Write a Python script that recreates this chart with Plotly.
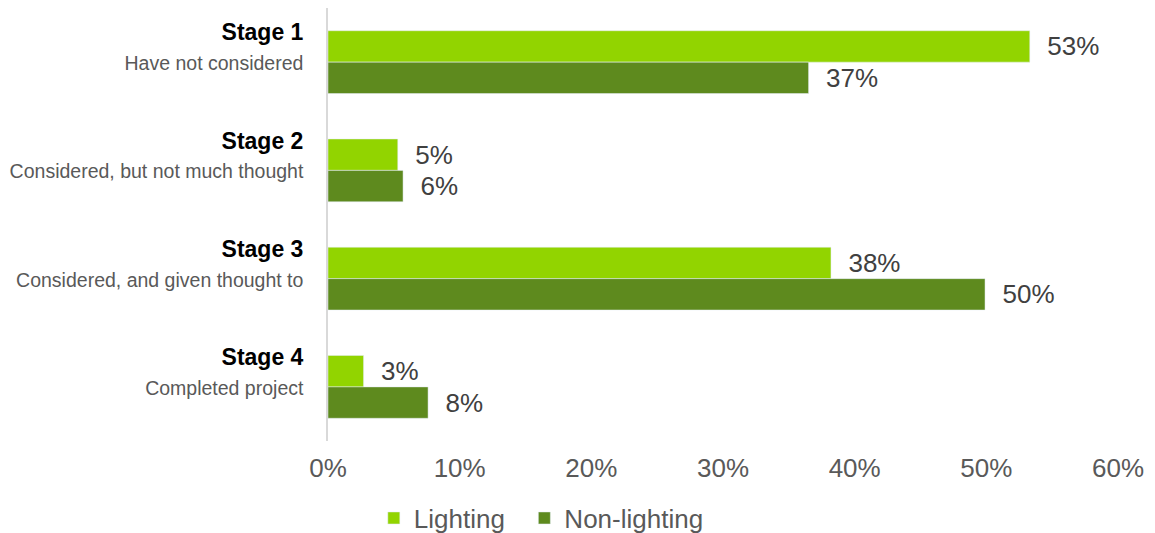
import plotly.graph_objects as go

stages = ["Stage 1", "Stage 2", "Stage 3", "Stage 4"]
descriptions = ["Have not considered", "Considered, but not much thought",
                "Considered, and given thought to", "Completed project"]
lighting = [53.3, 5.3, 38.2, 2.7]
nonlighting = [36.5, 5.7, 49.9, 7.6]
lighting_labels = ["53%", "5%", "38%", "3%"]
nonlighting_labels = ["37%", "6%", "50%", "8%"]
x_ticks = [0, 10, 20, 30, 40, 50, 60]
x_ticklabels = ["0%", "10%", "20%", "30%", "40%", "50%", "60%"]

ticktext = [
    f"<b>{s}</b><br><span style='font-size:19.5px;color:#595959'>{d}</span><br> "
    for s, d in zip(stages, descriptions)
]

nb = "\u00a0\u00a0"
label_font = dict(size=26, color="#404040", family="Liberation Sans, Arial")
fig = go.Figure()
fig.add_trace(go.Bar(
    y=stages, x=lighting, orientation="h", name="Lighting\u00a0\u00a0",
    marker=dict(color="#92D400"),
    text=[nb + t for t in lighting_labels], textposition="outside",
    textfont=label_font, cliponaxis=False,
))
fig.add_trace(go.Bar(
    y=stages, x=nonlighting, orientation="h", name="Non-lighting",
    marker=dict(color="#5E8A1E"),
    text=[nb + t for t in nonlighting_labels], textposition="outside",
    textfont=label_font, cliponaxis=False,
))

fig.update_layout(
    width=1155, height=533,
    margin=dict(l=328, r=37, t=8, b=92, autoexpand=False),
    paper_bgcolor="white", plot_bgcolor="white",
    barmode="group", bargap=0.42, bargroupgap=0,
    font=dict(family="Liberation Sans, Arial", color="#595959"),
    showlegend=True,
    legend=dict(orientation="h", x=0.058, xanchor="left", y=-0.178, yanchor="middle",
                font=dict(size=26, color="#595959"), traceorder="normal",
                itemwidth=30),
    xaxis=dict(range=[0, 60], tickvals=x_ticks, ticktext=x_ticklabels,
               showgrid=False, zeroline=False, showline=False,
               tickfont=dict(size=26, color="#595959"), ticks="",
               ticklabelstandoff=9),
    yaxis=dict(autorange="reversed", tickvals=stages, ticktext=ticktext,
               showgrid=False, zeroline=False, showline=True,
               linecolor="#D9D9D9", linewidth=2, ticks="",
               tickfont=dict(size=23, color="#000000", family="Liberation Sans, Arial"),
               ticklabelstandoff=18),
)

fig.write_html("out.html")
